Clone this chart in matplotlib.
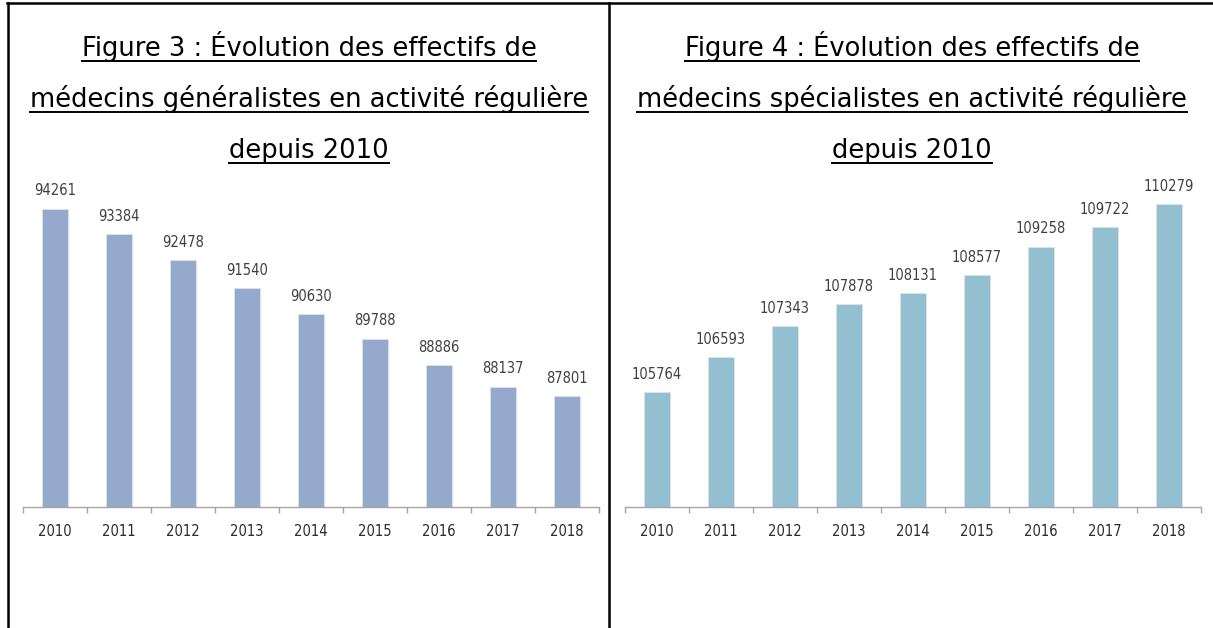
import matplotlib
matplotlib.use("Agg")
import matplotlib.pyplot as plt
from matplotlib.lines import Line2D

years = ["2010", "2011", "2012", "2013", "2014", "2015", "2016", "2017", "2018"]
generalistes = [94261, 93384, 92478, 91540, 90630, 89788, 88886, 88137, 87801]
specialistes = [105764, 106593, 107343, 107878, 108131, 108577, 109258, 109722, 110279]

title_left = ["Figure 3 : Évolution des effectifs de",
              "médecins généralistes en activité régulière",
              "depuis 2010"]
title_right = ["Figure 4 : Évolution des effectifs de",
               "médecins spécialistes en activité régulière",
               "depuis 2010"]

W, H = 1213, 628
fig = plt.figure(figsize=(W / 100, H / 100), dpi=100)
fig.patch.set_facecolor("white")

label_font = ["DejaVu Sans"]


def px_axes(x0, x1, ytop, ybot):
    return fig.add_axes([x0 / W, (H - ybot) / H, (x1 - x0) / W, (ybot - ytop) / H])


def draw_chart(ax, values, color, ylim):
    x = list(range(len(years)))
    ax.bar(x, [v - ylim[0] for v in values], bottom=ylim[0], width=0.41,
           color=color, edgecolor="#dde3ee", linewidth=0.6, zorder=2)
    ax.set_xlim(-0.5, len(years) - 0.5)
    ax.set_ylim(*ylim)
    for xi, v in zip(x, values):
        ax.annotate(str(v), (xi, v), xytext=(0, 9.5), textcoords="offset points",
                    ha="center", va="baseline", fontsize=10.5, color="#404040",
                    family=label_font, fontstretch="condensed", annotation_clip=False)
    for s in ["top", "right", "left"]:
        ax.spines[s].set_visible(False)
    ax.spines["bottom"].set_color("#a6a6a6")
    ax.spines["bottom"].set_linewidth(1.0)
    ax.set_yticks([])
    ax.set_xticks(x)
    ax.set_xticklabels(years, family=label_font, fontstretch="condensed",
                       fontsize=10.5, color="#2a2a2a")
    ax.tick_params(axis="x", which="major", length=0, pad=12)
    ax.set_xticks([i - 0.5 for i in range(len(years) + 1)], minor=True)
    ax.tick_params(axis="x", which="minor", length=4, width=1.0, color="#a6a6a6")
    ax.patch.set_alpha(0)


ax1 = px_axes(23, 599, 158, 507)
draw_chart(ax1, generalistes, "#94a9cb", (84000, 96000))
ax2 = px_axes(625, 1201, 174, 507)
draw_chart(ax2, specialistes, "#92c0d0", (103000, 111000))

# titles with underline
baselines = [56, 107, 158]
texts = []
for lines, cx in [(title_left, 309), (title_right, 912)]:
    for line, by in zip(lines, baselines):
        t = fig.text(cx / W, (H - by) / H, line, ha="center", va="baseline",
                     fontsize=18.5, family="DejaVu Sans", color="black")
        texts.append((t, by))

fig.canvas.draw()
r = fig.canvas.get_renderer()
for t, by in texts:
    bb = t.get_window_extent(renderer=r)
    uy = (H - by - 4.5) / H
    fig.add_artist(Line2D([bb.x0 / W, bb.x1 / W], [uy, uy], transform=fig.transFigure,
                          color="black", linewidth=1.4))

# frame lines
fig.add_artist(Line2D([7 / W, 1], [(H - 3) / H, (H - 3) / H], transform=fig.transFigure,
                      color="black", linewidth=1.8))
fig.add_artist(Line2D([7.5 / W, 7.5 / W], [0, (H - 3) / H], transform=fig.transFigure,
                      color="black", linewidth=1.8))
fig.add_artist(Line2D([609 / W, 609 / W], [0, (H - 3) / H], transform=fig.transFigure,
                      color="black", linewidth=1.8))

fig.savefig("out.png", dpi=100, facecolor="white")
